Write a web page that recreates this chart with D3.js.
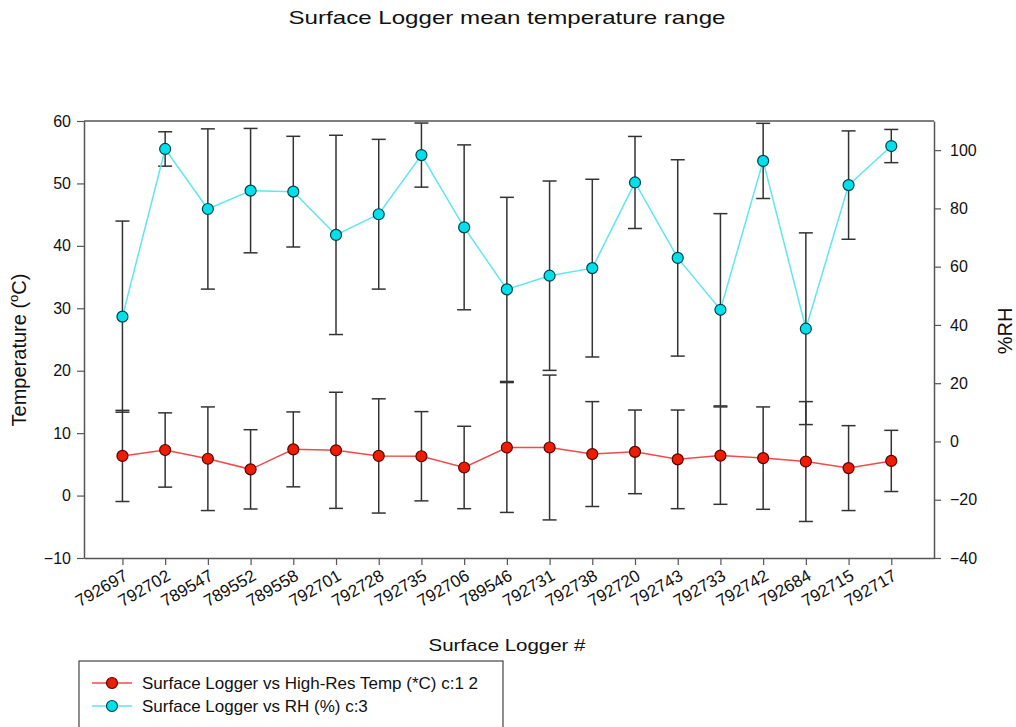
<!DOCTYPE html>
<html>
<head>
<meta charset="utf-8">
<script src="https://cdn.jsdelivr.net/npm/d3@7"></script>
<style>
  body { margin: 0; background: #fff; }
  text { font-family: "Liberation Sans", Arial, sans-serif; fill: #111; }
</style>
</head>
<body>
<script>

var width = 1016,
  height = 727;

// logger ids along the x axis
var loggers = ["792697", "792702", "789547", "789552", "789558", "792701", "792728",
  "792735", "792706", "789546", "792731", "792738", "792720", "792743", "792733",
  "792742", "792684", "792715", "792717"];

// mean temperature (C) and its error
var tempMean = [6.35, 7.3, 5.9, 4.2, 7.4, 7.25, 6.35, 6.3, 4.5, 7.7, 7.7, 6.65, 7.0, 5.8, 6.4, 6.0, 5.45, 4.4, 5.55];
var tempErr = [7.3, 5.95, 8.3, 6.35, 6.0, 9.3, 9.15, 7.15, 6.6, 10.4, 11.6, 8.4, 6.7, 7.9, 7.8, 8.2, 9.6, 6.8, 4.9];

// mean RH (%) and its error
var rhMean = [42.85, 100.4, 79.8, 86.1, 85.75, 70.9, 78.0, 98.3, 73.5, 52.2, 56.9, 59.5, 88.9, 63.0, 45.2, 96.3, 38.7, 88.0, 101.4];
var rhErr = [32.8, 5.9, 27.5, 21.35, 19.0, 34.2, 25.7, 11.0, 28.3, 31.6, 32.5, 30.5, 15.8, 33.7, 33.0, 12.9, 32.9, 18.6, 5.7];

var tempTicks = [-10, 0, 10, 20, 30, 40, 50, 60];
var rhTicks = [-40, -20, 0, 20, 40, 60, 80, 100];

var plotLeft = 84, plotRight = 934, plotTop = 121, plotBottom = 558;

var svg = d3.select("body").append("svg")
  .attr("width", width)
  .attr("height", height);

var x = d3.scaleLinear().domain([-0.9, 19]).range([plotLeft, plotRight]);
var yT = d3.scaleLinear().domain([-10, 60]).range([plotBottom, plotTop]);
var yR = d3.scaleLinear().domain([-40, 110]).range([plotBottom, plotTop]);

var axisColor = "#555";

// frame top line
svg.append("line")
  .attr("x1", plotLeft).attr("x2", plotRight)
  .attr("y1", plotTop).attr("y2", plotTop)
  .attr("stroke", axisColor).attr("stroke-width", 1.5);

var gl = svg.append("g").attr("transform", "translate(" + plotLeft + ",0)")
  .call(d3.axisLeft(yT).tickValues(tempTicks).tickSize(7).tickPadding(6).tickSizeOuter(0));
var gr = svg.append("g").attr("transform", "translate(" + plotRight + ",0)")
  .call(d3.axisRight(yR).tickValues(rhTicks).tickSize(7).tickPadding(9).tickSizeOuter(0));
var gb = svg.append("g").attr("transform", "translate(0," + plotBottom + ")")
  .call(d3.axisBottom(x).tickValues(d3.range(loggers.length))
    .tickFormat(function(i){ return loggers[i]; }).tickSize(7).tickSizeOuter(0));

[gl, gr, gb].forEach(function(g){
  g.select(".domain").attr("stroke", axisColor).attr("stroke-width", 1.5);
  g.selectAll(".tick line").attr("stroke", axisColor).attr("stroke-width", 1.2);
  g.selectAll("text").attr("font-size", 16).attr("fill", "#111")
    .attr("font-family", "Liberation Sans, Arial, sans-serif");
});

gb.selectAll(".tick text")
  .attr("font-size", 17)
  .attr("text-anchor", "end")
  .attr("dy", null)
  .attr("y", 0)
  .attr("transform", "translate(6,21) rotate(-30)");

// titles
svg.append("text")
  .attr("x", 507).attr("y", 24)
  .attr("text-anchor", "middle")
  .attr("font-size", 19)
  .attr("textLength", 437).attr("lengthAdjust", "spacingAndGlyphs")
  .text("Surface Logger mean temperature range");

svg.append("text")
  .attr("x", 507).attr("y", 651)
  .attr("text-anchor", "middle")
  .attr("font-size", 17)
  .attr("textLength", 157).attr("lengthAdjust", "spacingAndGlyphs")
  .text("Surface Logger #");

var ylab = svg.append("text")
  .attr("transform", "translate(26,350) rotate(-90)")
  .attr("text-anchor", "middle")
  .attr("font-size", 20);
ylab.append("tspan").text("Temperature (");
ylab.append("tspan").attr("font-size", 13).attr("dy", -8).text("o");
ylab.append("tspan").attr("dy", 8).text("C)");

svg.append("text")
  .attr("transform", "translate(1012,331) rotate(-90)")
  .attr("text-anchor", "middle")
  .attr("font-size", 20)
  .text("%RH");

// error bars
function errorBars(mean, err, y, cls) {
  var g = svg.append("g").attr("class", cls);
  var bars = g.selectAll("g").data(mean).enter().append("g");
  bars.append("line")
    .attr("x1", function(d, i){ return x(i); })
    .attr("x2", function(d, i){ return x(i); })
    .attr("y1", function(d, i){ return y(d + err[i]); })
    .attr("y2", function(d, i){ return y(d - err[i]); })
    .attr("stroke", "#333").attr("stroke-width", 1.5);
  [1, -1].forEach(function(s){
    bars.append("line")
      .attr("x1", function(d, i){ return x(i) - 7; })
      .attr("x2", function(d, i){ return x(i) + 7; })
      .attr("y1", function(d, i){ return y(d + s * err[i]); })
      .attr("y2", function(d, i){ return y(d + s * err[i]); })
      .attr("stroke", "#333").attr("stroke-width", 1.5);
  });
}

errorBars(rhMean, rhErr, yR, "rh-err");
errorBars(tempMean, tempErr, yT, "temp-err");

function series(mean, y, lineColor, fill, stroke) {
  var line = d3.line()
    .x(function(d, i){ return x(i); })
    .y(function(d){ return y(d); });
  svg.append("path").datum(mean)
    .attr("d", line)
    .attr("fill", "none")
    .attr("stroke", lineColor).attr("stroke-width", 1.5);
  svg.append("g").selectAll("circle").data(mean).enter().append("circle")
    .attr("cx", function(d, i){ return x(i); })
    .attr("cy", function(d){ return y(d); })
    .attr("r", 5.5)
    .attr("fill", fill)
    .attr("stroke", stroke).attr("stroke-width", 1.2);
}

series(tempMean, yT, "#f24a4a", "#ee1c00", "#5a0000");
series(rhMean, yR, "#5fe6ee", "#00e0ea", "#00404a");

// legend
var legend = svg.append("g");
legend.append("rect")
  .attr("x", 79).attr("y", 661)
  .attr("width", 424).attr("height", 80)
  .attr("fill", "#fff").attr("stroke", "#444").attr("stroke-width", 1.2);

var legendItems = [
  {label: "Surface Logger vs High-Res Temp (*C) c:1 2", line: "#f24a4a", fill: "#ee1c00", stroke: "#5a0000"},
  {label: "Surface Logger vs RH (%) c:3", line: "#5fe6ee", fill: "#00e0ea", stroke: "#00404a"}
];
var li = legend.selectAll(".item").data(legendItems).enter().append("g")
  .attr("class", "item")
  .attr("transform", function(d, i){ return "translate(0," + (683 + i * 23) + ")"; });
li.append("line")
  .attr("x1", 92).attr("x2", 132)
  .attr("stroke", function(d){ return d.line; }).attr("stroke-width", 1.5);
li.append("circle")
  .attr("cx", 112).attr("r", 5.5)
  .attr("fill", function(d){ return d.fill; })
  .attr("stroke", function(d){ return d.stroke; }).attr("stroke-width", 1.2);
li.append("text")
  .attr("x", 142).attr("y", 6)
  .attr("font-size", 17)
  .text(function(d){ return d.label; });

</script>
</body>
</html>
